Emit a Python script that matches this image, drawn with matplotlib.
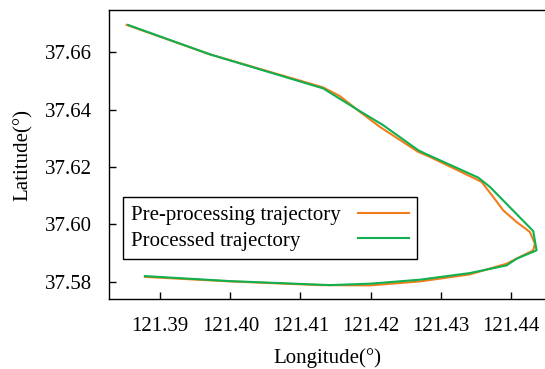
import matplotlib
matplotlib.use("Agg")
import matplotlib.pyplot as plt

## donnees : trajectoire avant traitement
lon_pre = [121.38520, 121.39709, 121.41324, 121.41562, 121.41847, 121.42132,
           121.42678, 121.42845, 121.43487, 121.43582, 121.43748, 121.43890,
           121.44081, 121.44271, 121.44342, 121.44318, 121.44175, 121.43939,
           121.43415, 121.42703, 121.41990, 121.41277, 121.39994, 121.38782]
lat_pre = [37.66960, 37.65930, 37.64776, 37.64472, 37.63923, 37.63399,
           37.62524, 37.62350, 37.61594, 37.61476, 37.60951, 37.60486,
           37.60077, 37.59727, 37.59322, 37.59087, 37.58913, 37.58622,
           37.58248, 37.58003, 37.57864, 37.57874, 37.58003, 37.58161]

## donnees : trajectoire traitee
lon_post = [121.38544, 121.39709, 121.41324, 121.41515, 121.41823, 121.42179,
            121.42678, 121.42774, 121.43534, 121.43701, 121.44318, 121.44366,
            121.44081, 121.43939, 121.43415, 121.42703, 121.41990, 121.41419,
            121.39994, 121.38782]
lat_post = [37.66955, 37.65930, 37.64741, 37.64448, 37.63983, 37.63458,
            37.62584, 37.62469, 37.61629, 37.61301, 37.59762, 37.59087,
            37.58797, 37.58563, 37.58294, 37.58063, 37.57923, 37.57874,
            37.58014, 37.58189]

xticks = [121.39, 121.40, 121.41, 121.42, 121.43, 121.44]
yticks = [37.58, 37.60, 37.62, 37.64, 37.66]

plt.rcParams['font.family'] = ['Liberation Serif', 'DejaVu Serif']
plt.rcParams['font.size'] = 15

fig = plt.figure(figsize=(5.45, 3.69), dpi=100)
ax = fig.add_axes([0.2, 0.189, 0.8018, 0.784])

ax.plot(lon_pre, lat_pre, color='#f07d1a', linewidth=1.5, label='Pre-processing trajectory')
ax.plot(lon_post, lat_post, color='#10b050', linewidth=1.5, label='Processed trajectory')

# bornes des axes
ax.set_xlim(121.3827, 121.4450)
ax.set_ylim(37.5738, 37.6748)
ax.set_xticks(xticks)
ax.set_xticklabels(['%.2f' % v for v in xticks])
ax.set_yticks(yticks)
ax.set_yticklabels(['%.2f' % v for v in yticks])
ax.tick_params(direction='in', length=5, width=1)
ax.tick_params(axis='x', pad=13)
ax.tick_params(axis='y', pad=12)
for s in ax.spines.values():
    s.set_linewidth(1)

ax.set_xlabel('Longitude(°)', labelpad=8.5)
ax.set_ylabel('Latitude(°)', labelpad=9)

leg = ax.legend(loc='lower left', bbox_to_anchor=(0.032, 0.139), borderaxespad=0,
                markerfirst=False, fancybox=False, edgecolor='black', framealpha=1,
                handlelength=2.45, handletextpad=0.8, borderpad=0.4,
                labelspacing=0.3, fontsize=15)
leg.get_frame().set_linewidth(1)

# texte aligne a gauche, traits alignes a droite
fig.canvas.draw()
rows = leg._legend_handle_box.get_children()[0].get_children()
larg = [t.get_window_extent().width for t in leg.get_texts()]
wmax = max(larg)
for r, w in zip(rows, larg):
    r.sep = r.sep + (wmax - w) * 72 / fig.dpi
leg._legend_handle_box.get_children()[0].align = 'left'

fig.savefig('out.png', dpi=100)
